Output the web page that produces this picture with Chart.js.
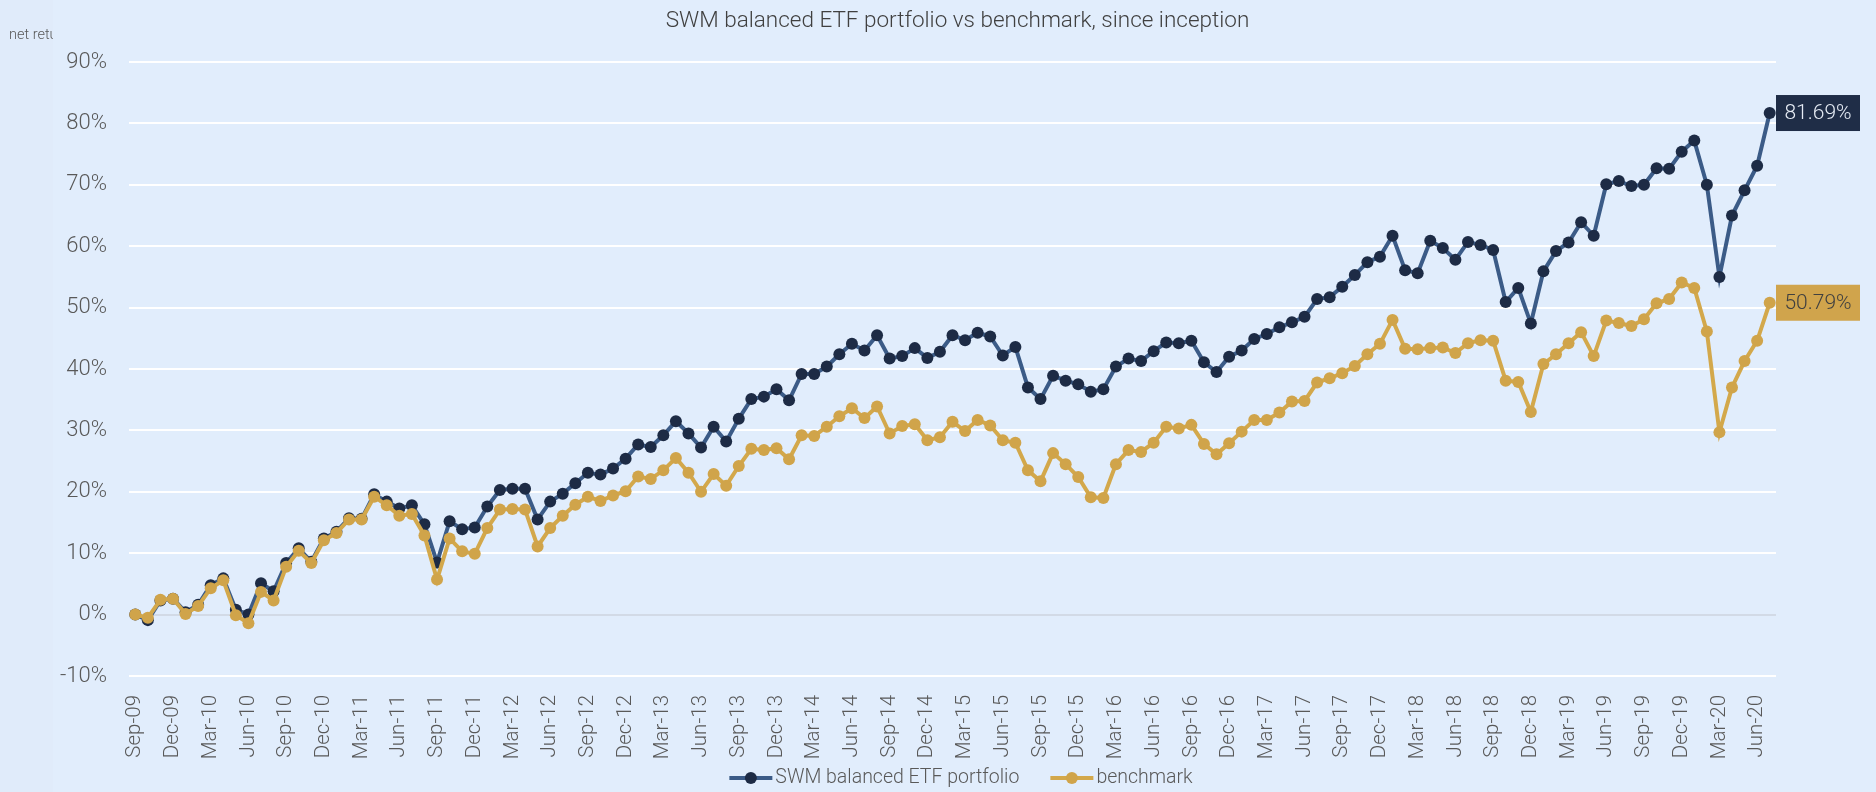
<!DOCTYPE html>
<html>
<head>
<meta charset="utf-8">
<script src="https://cdn.jsdelivr.net/npm/chart.js@4.4.1/dist/chart.umd.min.js"></script>
<style>
  html, body { margin: 0; padding: 0; background: #E1EDFC; }
  canvas { display: block; }
</style>
</head>
<body>
<canvas id="lineChart" width="1876" height="792"></canvas>
<script>
// monthly points, Sep-09 .. Jul-20
const months = [
  'Sep-09', 'Oct-09', 'Nov-09', 'Dec-09',
  'Jan-10', 'Feb-10', 'Mar-10', 'Apr-10', 'May-10', 'Jun-10', 'Jul-10', 'Aug-10', 'Sep-10', 'Oct-10', 'Nov-10', 'Dec-10',
  'Jan-11', 'Feb-11', 'Mar-11', 'Apr-11', 'May-11', 'Jun-11', 'Jul-11', 'Aug-11', 'Sep-11', 'Oct-11', 'Nov-11', 'Dec-11',
  'Jan-12', 'Feb-12', 'Mar-12', 'Apr-12', 'May-12', 'Jun-12', 'Jul-12', 'Aug-12', 'Sep-12', 'Oct-12', 'Nov-12', 'Dec-12',
  'Jan-13', 'Feb-13', 'Mar-13', 'Apr-13', 'May-13', 'Jun-13', 'Jul-13', 'Aug-13', 'Sep-13', 'Oct-13', 'Nov-13', 'Dec-13',
  'Jan-14', 'Feb-14', 'Mar-14', 'Apr-14', 'May-14', 'Jun-14', 'Jul-14', 'Aug-14', 'Sep-14', 'Oct-14', 'Nov-14', 'Dec-14',
  'Jan-15', 'Feb-15', 'Mar-15', 'Apr-15', 'May-15', 'Jun-15', 'Jul-15', 'Aug-15', 'Sep-15', 'Oct-15', 'Nov-15', 'Dec-15',
  'Jan-16', 'Feb-16', 'Mar-16', 'Apr-16', 'May-16', 'Jun-16', 'Jul-16', 'Aug-16', 'Sep-16', 'Oct-16', 'Nov-16', 'Dec-16',
  'Jan-17', 'Feb-17', 'Mar-17', 'Apr-17', 'May-17', 'Jun-17', 'Jul-17', 'Aug-17', 'Sep-17', 'Oct-17', 'Nov-17', 'Dec-17',
  'Jan-18', 'Feb-18', 'Mar-18', 'Apr-18', 'May-18', 'Jun-18', 'Jul-18', 'Aug-18', 'Sep-18', 'Oct-18', 'Nov-18', 'Dec-18',
  'Jan-19', 'Feb-19', 'Mar-19', 'Apr-19', 'May-19', 'Jun-19', 'Jul-19', 'Aug-19', 'Sep-19', 'Oct-19', 'Nov-19', 'Dec-19',
  'Jan-20', 'Feb-20', 'Mar-20', 'Apr-20', 'May-20', 'Jun-20', 'Jul-20'
];

// net return, %
const portfolio = [
  0.0, -0.9, 2.3, 2.6,
  0.4, 1.6, 4.8, 5.9, 0.8, 0.0, 5.1, 3.8, 8.4, 10.8, 8.6, 12.4,
  13.5, 15.7, 15.6, 19.6, 18.4, 17.3, 17.8, 14.7, 8.5, 15.2, 13.9, 14.2,
  17.6, 20.3, 20.5, 20.5, 15.5, 18.4, 19.7, 21.4, 23.1, 22.8, 23.8, 25.4,
  27.7, 27.3, 29.2, 31.5, 29.5, 27.2, 30.6, 28.2, 31.9, 35.1, 35.5, 36.7,
  34.9, 39.2, 39.2, 40.4, 42.4, 44.1, 43.0, 45.5, 41.7, 42.1, 43.4, 41.8,
  42.8, 45.5, 44.7, 45.9, 45.3, 42.2, 43.6, 37.0, 35.1, 38.9, 38.1, 37.5,
  36.3, 36.7, 40.4, 41.7, 41.3, 42.9, 44.3, 44.2, 44.6, 41.1, 39.5, 42.0,
  43.0, 44.9, 45.7, 46.8, 47.6, 48.5, 51.4, 51.7, 53.4, 55.3, 57.4, 58.3,
  61.7, 56.1, 55.6, 60.9, 59.7, 57.8, 60.7, 60.2, 59.4, 50.9, 53.2, 47.4,
  55.9, 59.2, 60.6, 63.9, 61.7, 70.1, 70.6, 69.8, 70.0, 72.7, 72.6, 75.4,
  77.2, 70.0, 55.0, 65.0, 69.1, 73.1, 81.69
];

const benchmark = [
  0.0, -0.5, 2.4, 2.6,
  0.1, 1.4, 4.3, 5.6, -0.1, -1.4, 3.7, 2.3, 7.8, 10.4, 8.4, 12.1,
  13.3, 15.5, 15.5, 19.2, 17.8, 16.1, 16.4, 12.9, 5.7, 12.4, 10.3, 9.9,
  14.1, 17.1, 17.2, 17.1, 11.1, 14.1, 16.1, 17.9, 19.2, 18.5, 19.4, 20.1,
  22.5, 22.1, 23.5, 25.5, 23.1, 20.0, 22.9, 21.0, 24.2, 27.0, 26.8, 27.1,
  25.3, 29.2, 29.1, 30.6, 32.3, 33.6, 32.0, 33.9, 29.5, 30.7, 31.0, 28.4,
  28.9, 31.4, 29.9, 31.7, 30.8, 28.4, 28.0, 23.5, 21.7, 26.3, 24.5, 22.4,
  19.1, 19.0, 24.5, 26.8, 26.5, 28.0, 30.6, 30.3, 30.9, 27.8, 26.1, 27.9,
  29.8, 31.7, 31.7, 32.9, 34.7, 34.8, 37.8, 38.5, 39.3, 40.5, 42.4, 44.1,
  48.0, 43.3, 43.2, 43.4, 43.5, 42.6, 44.2, 44.7, 44.6, 38.1, 37.9, 33.0,
  40.8, 42.4, 44.2, 46.0, 42.1, 47.9, 47.5, 47.0, 48.1, 50.7, 51.4, 54.1,
  53.2, 46.1, 29.7, 37.0, 41.3, 44.6, 50.79
];

const yMin = -10;
const yMax = 90;
const yStep = 10;

const FONT = 'Roboto, "Liberation Sans", sans-serif';
const textGrey = '#595959';

// title, axis caption, end-value boxes and legend
const extrasPlugin = {
  id: 'extras',
  beforeDraw(chart) {
    const ctx = chart.ctx;
    ctx.save();
    ctx.fillStyle = '#E1EDFC';
    ctx.fillRect(0, 0, chart.width, chart.height);
    ctx.fillStyle = '#E0EBFA';
    ctx.fillRect(0, 0, 53, chart.height);
    ctx.restore();
  },
  afterDraw(chart) {
    const ctx = chart.ctx;
    const area = chart.chartArea;
    ctx.save();

    // title
    ctx.font = '300 22.5px ' + FONT;
    ctx.fillStyle = '#404040';
    ctx.textAlign = 'center';
    ctx.textBaseline = 'middle';
    ctx.fillText('SWM balanced ETF portfolio vs benchmark, since inception', (area.left + area.right) / 2 + 5, 21);

    // y axis caption, cut off by its box like the original
    ctx.save();
    ctx.beginPath();
    ctx.rect(0, 0, 53, 80);
    ctx.clip();
    ctx.font = '300 14.5px ' + FONT;
    ctx.fillStyle = textGrey;
    ctx.textAlign = 'left';
    ctx.fillText('net return', 9, 35);
    ctx.restore();

    // value boxes at the last point
    const boxes = [
      { idx: 0, fill: '#1F2D47', text: '#E6ECF5' },
      { idx: 1, fill: '#D0A44C', text: '#404040' }
    ];
    boxes.forEach(b => {
      const meta = chart.getDatasetMeta(b.idx);
      const data = chart.data.datasets[b.idx].data;
      const pt = meta.data[data.length - 1];
      const x = area.right;
      const w = 84, h = 36;
      ctx.fillStyle = b.fill;
      ctx.fillRect(x, pt.y - h / 2, w, h);
      ctx.font = '300 21px ' + FONT;
      ctx.fillStyle = b.text;
      ctx.textAlign = 'center';
      ctx.fillText(data[data.length - 1].toFixed(2) + '%', x + w / 2, pt.y + 1);
    });

    // legend
    ctx.font = '300 19.5px ' + FONT;
    const items = chart.data.datasets.map(ds => ({
      label: ds.label,
      line: ds.borderColor,
      dot: ds.pointBackgroundColor,
      w: ctx.measureText(ds.label).width
    }));
    const lineLen = 43, gap = 3, itemGap = 31;
    let total = 0;
    items.forEach((it, i) => { total += lineLen + gap + it.w + (i ? itemGap : 0); });
    let lx = 961 - total / 2;
    const ly = 778;
    items.forEach(it => {
      ctx.strokeStyle = it.line;
      ctx.lineWidth = 4;
      ctx.beginPath();
      ctx.moveTo(lx, ly);
      ctx.lineTo(lx + lineLen, ly);
      ctx.stroke();
      ctx.fillStyle = it.dot;
      ctx.beginPath();
      ctx.arc(lx + lineLen / 2, ly, 6, 0, Math.PI * 2);
      ctx.fill();
      ctx.fillStyle = textGrey;
      ctx.textAlign = 'left';
      ctx.textBaseline = 'middle';
      ctx.fillText(it.label, lx + lineLen + gap, ly);
      lx += lineLen + gap + it.w + itemGap;
    });

    ctx.restore();
  }
};

const lineCtx = document.getElementById('lineChart').getContext('2d');
const lineChart = new Chart(lineCtx, {
  type: 'line',
  data: {
    labels: months,
    datasets: [
      {
        label: 'SWM balanced ETF portfolio',
        data: portfolio,
        borderColor: '#3B5B87',
        borderWidth: 4,
        pointRadius: 6,
        pointBorderWidth: 0,
        pointBackgroundColor: '#1D2B45',
        tension: 0,
        order: 1
      },
      {
        label: 'benchmark',
        data: benchmark,
        borderColor: '#D3A84B',
        borderWidth: 4,
        pointRadius: 6,
        pointBorderWidth: 0,
        pointBackgroundColor: '#D0A44A',
        tension: 0,
        order: 0
      }
    ]
  },
  options: {
    responsive: false,
    animation: false,
    layout: {
      padding: { left: 0, right: 100, top: 62, bottom: 28 }
    },
    plugins: {
      legend: { display: false },
      title: { display: false },
      tooltip: { enabled: false }
    },
    scales: {
      x: {
        offset: true,
        grid: { display: false },
        border: { display: false },
        ticks: {
          autoSkip: false,
          minRotation: 90,
          maxRotation: 90,
          padding: 11,
          color: textGrey,
          font: { family: FONT, size: 20.5, weight: 300 },
          callback: function (val, index) {
            return index % 3 === 0 ? this.getLabelForValue(val) : '';
          }
        },
        afterFit: scale => { scale.height = 88; }
      },
      y: {
        min: yMin,
        max: yMax,
        border: { display: false },
        grid: {
          drawTicks: false,
          lineWidth: 2,
          color: c => (c.tick && c.tick.value === 0 ? '#D2DAE6' : '#FFFFFF')
        },
        ticks: {
          stepSize: yStep,
          padding: 22,
          color: textGrey,
          font: { family: FONT, size: 22, weight: 300 },
          callback: v => v + '%'
        },
        afterFit: scale => { scale.width = 129; }
      }
    }
  },
  plugins: [extrasPlugin]
});
</script>
</body>
</html>
